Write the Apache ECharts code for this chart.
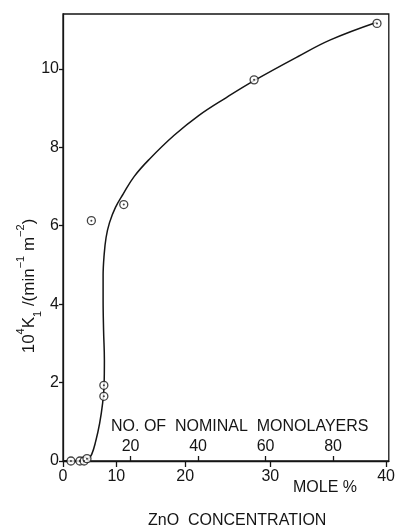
<!DOCTYPE html>
<html>
<head>
<meta charset="utf-8">
<script src="https://cdn.jsdelivr.net/npm/echarts@6/dist/echarts.min.js"></script>
<style>
html,body{margin:0;padding:0;background:#fff;}
#chart{width:398px;height:531px;}
</style>
</head>
<body>
<div id="chart"></div>
<script>
// x values are in "No. of nominal monolayers" (the linear axis); y in 10^4 K1 /(min^-1 m^-2)
const measuredPoints = [
  [2.35, 0], [5.0, 0], [6.25, 0], [7.1, 0.06],
  [12.1, 1.65], [12.1, 1.93],
  [8.4, 6.13], [18.0, 6.54],
  [56.6, 9.72], [93.0, 11.16]
];
const fittedCurve = [
  [0, 0], [6.16, 0], [7.33, 0.04], [8.5, 0.17], [9.68, 0.5], [10.85, 0.96],
  [11.73, 1.47], [12.17, 1.93], [12.26, 2.57], [12.02, 3.33], [11.88, 4.1],
  [11.88, 4.73], [12.17, 5.24], [12.76, 5.7], [13.78, 6.08], [15.54, 6.47],
  [17.89, 6.82], [21.11, 7.26], [25.51, 7.69], [32.84, 8.3], [40.18, 8.81],
  [48.39, 9.27], [56.6, 9.7], [69.5, 10.31], [79.2, 10.74], [92.96, 11.19]
];
const yTicks = [0, 2, 4, 6, 8, 10];
const monolayerTicks = [20, 40, 60, 80];
const moleTickLabels = ['0', '10', '20', '30', '40'];
const moleTickPositions = [0, 15.8, 36.2, 61.4, 95.7]; // where mole % ticks sit on the monolayer scale

const INK = '#151515';
const FONT = 'Liberation Sans';

const chart = echarts.init(document.getElementById('chart'));
chart.setOption({
  animation: false,
  backgroundColor: '#fff',
  grid: { left: 63, top: 14, right: 6, bottom: 70, show: true, borderColor: INK, borderWidth: 1.3, backgroundColor: 'transparent' },
  xAxis: [
    {
      type: 'value', min: 0, max: 96.5, position: 'bottom',
      axisLine: { show: true, onZero: false, lineStyle: { color: INK, width: 1.3 } },
      axisTick: { show: true, inside: false, length: 6, customValues: moleTickPositions, lineStyle: { color: INK, width: 1.3 } },
      axisLabel: {
        customValues: moleTickPositions, margin: 8, color: INK, fontFamily: FONT, fontSize: 16,
        formatter: function (v) {
          let best = 0;
          for (let i = 0; i < moleTickPositions.length; i++) {
            if (Math.abs(moleTickPositions[i] - v) < Math.abs(moleTickPositions[best] - v)) best = i;
          }
          return moleTickLabels[best];
        }
      },
      splitLine: { show: false }
    },
    {
      type: 'value', min: 0, max: 96.5, position: 'bottom',
      axisLine: { show: false, onZero: false },
      axisTick: { show: true, inside: true, length: 5, customValues: monolayerTicks, lineStyle: { color: INK, width: 1.3 } },
      axisLabel: { inside: true, customValues: monolayerTicks, margin: 6, color: INK, fontFamily: FONT, fontSize: 16 },
      splitLine: { show: false }
    }
  ],
  yAxis: {
    type: 'value', min: 0, max: 11.4,
    axisLine: { show: true, lineStyle: { color: INK, width: 1.3 } },
    axisTick: { show: true, inside: false, length: 4, customValues: yTicks, lineStyle: { color: INK, width: 1.3 } },
    axisLabel: { customValues: yTicks, margin: 4, color: INK, fontFamily: FONT, fontSize: 16 },
    splitLine: { show: false }
  },
  series: [
    {
      type: 'line', xAxisIndex: 1, data: fittedCurve, smooth: 0.4, showSymbol: false, clip: false,
      lineStyle: { color: INK, width: 1.5 }, z: 2
    },
    {
      type: 'scatter', xAxisIndex: 1, data: measuredPoints, symbol: 'circle', symbolSize: 8, clip: false,
      itemStyle: { color: '#fff', borderColor: INK, borderWidth: 1.3 }, z: 3
    },
    {
      type: 'scatter', xAxisIndex: 1, data: measuredPoints, symbol: 'circle', symbolSize: 2, clip: false,
      itemStyle: { color: INK }, z: 4
    }
  ],
  graphic: [
    { type: 'text', x: 111, y: 427, style: { text: 'NO. OF  NOMINAL  MONOLAYERS', fill: INK, font: '16px "Liberation Sans"', textAlign: 'left', textVerticalAlign: 'middle' } },
    { type: 'text', x: 293, y: 488, style: { text: 'MOLE %', fill: INK, font: '16px "Liberation Sans"', textAlign: 'left', textVerticalAlign: 'middle' } },
    { type: 'text', x: 148, y: 521, style: { text: 'ZnO  CONCENTRATION', fill: INK, font: '16px "Liberation Sans"', textAlign: 'left', textVerticalAlign: 'middle' } },
    {
      type: 'text', x: 29, y: 286, rotation: Math.PI / 2,
      style: {
        text: '{a|10}{sup|4}{a|K}{sub|1}{a| /(min}{sup|−1}{a| m}{sup|−2}{a|)}',
        fill: INK, textAlign: 'center', textVerticalAlign: 'middle',
        rich: {
          a: { fontSize: 17, fontFamily: FONT, lineHeight: 28, verticalAlign: 'middle', fill: INK },
          sup: { fontSize: 11, fontFamily: FONT, lineHeight: 11, verticalAlign: 'top', fill: INK },
          sub: { fontSize: 11, fontFamily: FONT, lineHeight: 11, verticalAlign: 'bottom', fill: INK }
        }
      }
    }
  ]
});
</script>
</body>
</html>
